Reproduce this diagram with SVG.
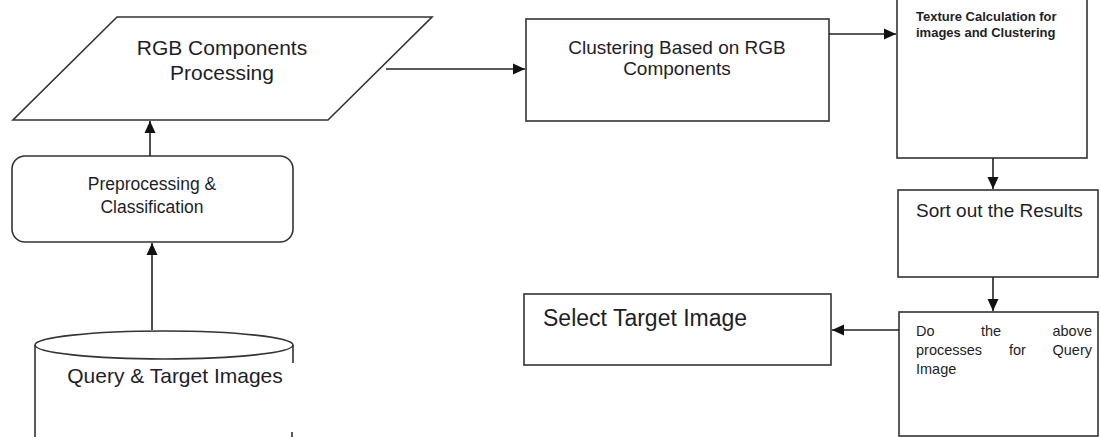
<svg xmlns="http://www.w3.org/2000/svg" width="1101" height="437" viewBox="0 0 1101 437">
<style>
.s{fill:#fff;stroke:#333;stroke-width:1.6}
.t{font-family:"Liberation Sans",Arial,sans-serif;fill:#1e1e28}
.c{stroke:#222;stroke-width:1.6;fill:none}
</style>
<defs>
<marker id="ah" viewBox="0 0 12 12" refX="12" refY="6" markerWidth="12" markerHeight="12" markerUnits="userSpaceOnUse" orient="auto">
<path d="M0,0.5 L12,6 L0,11.5 z" fill="#111"/>
</marker>
</defs>
<rect width="1101" height="437" fill="#fff"/>
<g id="rgb">
<polygon class="s" points="117,17 432,17 328,120 13,120"/>
<text class="t" x="222" y="55" font-size="21" text-anchor="middle">RGB Components</text>
<text class="t" x="222" y="80" font-size="21" text-anchor="middle">Processing</text>
</g>
<g id="preproc">
<rect class="s" x="12" y="156" width="281" height="86" rx="13"/>
<text class="t" x="152" y="190" font-size="17.5" text-anchor="middle">Preprocessing &amp;</text>
<text class="t" x="152" y="213" font-size="17.5" text-anchor="middle">Classification</text>
</g>
<g id="db">
<path class="s" d="M35,345 L35,437 M293,345 L293,363 M292,432 L292,437"/>
<ellipse class="s" cx="164" cy="345" rx="129" ry="14"/>
<text class="t" x="175" y="383" font-size="21" text-anchor="middle">Query &amp; Target Images</text>
</g>
<g id="cluster">
<rect class="s" x="526" y="19" width="303" height="102"/>
<text class="t" x="677" y="54" font-size="19" text-anchor="middle">Clustering Based on RGB</text>
<text class="t" x="677" y="75" font-size="19" text-anchor="middle">Components</text>
</g>
<g id="texture">
<rect class="s" x="897" y="-5" width="190" height="163"/>
<text class="t" x="916" y="21" font-size="13" font-weight="bold">Texture Calculation for</text>
<text class="t" x="916" y="37" font-size="13" font-weight="bold">images and Clustering</text>
</g>
<g id="sort">
<rect class="s" x="898" y="190" width="200" height="87"/>
<text class="t" x="916" y="217" font-size="19">Sort out the Results</text>
</g>
<g id="doabove">
<rect class="s" x="899" y="312" width="199" height="124"/>
<text class="t" font-size="14.5"><tspan x="916" y="336">Do</tspan><tspan x="991" y="336" text-anchor="middle">the</tspan><tspan x="1092" y="336" text-anchor="end">above</tspan></text>
<text class="t" font-size="14.5"><tspan x="916" y="355">processes</tspan><tspan x="1009" y="355">for</tspan><tspan x="1092" y="355" text-anchor="end">Query</tspan></text>
<text class="t" x="916" y="374" font-size="14.5">Image</text>
</g>
<g id="select">
<rect class="s" x="524" y="294" width="307" height="71"/>
<text class="t" x="543" y="326" font-size="23">Select Target Image</text>
</g>
<g id="connectors">
<line class="c" x1="152" y1="330" x2="152" y2="243" marker-end="url(#ah)"/>
<line class="c" x1="150" y1="156" x2="150" y2="121" marker-end="url(#ah)"/>
<line class="c" x1="386" y1="69" x2="525" y2="69" marker-end="url(#ah)"/>
<line class="c" x1="829" y1="34" x2="896" y2="34" marker-end="url(#ah)"/>
<line class="c" x1="993" y1="158" x2="993" y2="189" marker-end="url(#ah)"/>
<line class="c" x1="993" y1="277" x2="993" y2="311" marker-end="url(#ah)"/>
<line class="c" x1="899" y1="330" x2="832" y2="330" marker-end="url(#ah)"/>
</g>
</svg>
